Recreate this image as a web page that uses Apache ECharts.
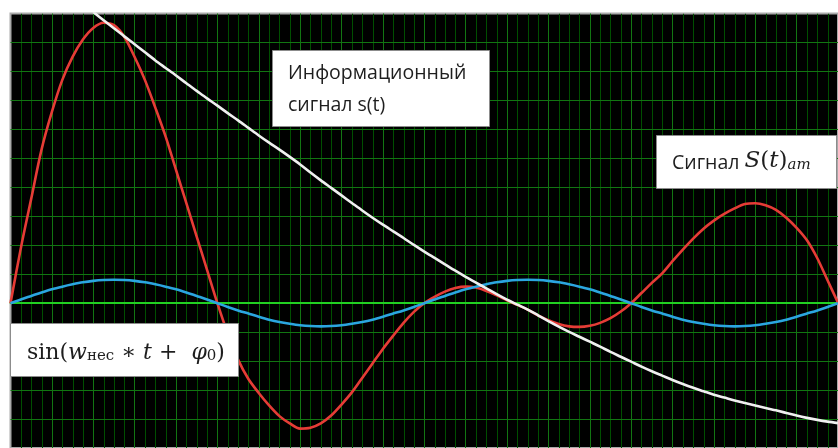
<!DOCTYPE html>
<html>
<head>
<meta charset="utf-8">
<script src="https://cdn.jsdelivr.net/npm/echarts@6/dist/echarts.min.js"></script>
<style>
  html, body { margin: 0; padding: 0; background: #fff; }
  #chart { width: 838px; height: 448px; }
</style>
</head>
<body>
<div id="chart"></div>
<script>
// Time axis, in carrier grid units (one carrier period = 10 units)
const time = [
  0, 0.25, 0.5, 0.75, 1, 1.25, 1.5, 1.75, 2, 2.25, 2.5, 2.75, 3, 3.25, 3.5, 3.75, 4, 4.25, 4.5, 4.75,
  5, 5.25, 5.5, 5.75, 6, 6.25, 6.5, 6.75, 7, 7.25, 7.5, 7.75, 8, 8.25, 8.5, 8.75, 9, 9.25, 9.5, 9.75,
  10, 10.25, 10.5, 10.75, 11, 11.25, 11.5, 11.75, 12, 12.25, 12.5, 12.75, 13, 13.25, 13.5, 13.75, 14, 14.25, 14.5, 14.75,
  15, 15.25, 15.5, 15.75, 16, 16.25, 16.5, 16.75, 17, 17.25, 17.5, 17.75, 18, 18.25, 18.5, 18.75, 19, 19.25, 19.5, 19.75,
  20
];

// Carrier sin(w_нес * t + phi0)
const carrier = [
  0, 0.13, 0.25, 0.37, 0.48, 0.57, 0.65, 0.72, 0.77, 0.80, 0.81, 0.80, 0.77, 0.72, 0.65, 0.57, 0.48, 0.37, 0.25, 0.13,
  0, -0.13, -0.25, -0.36, -0.47, -0.57, -0.65, -0.71, -0.76, -0.79, -0.80, -0.79, -0.76, -0.71, -0.65, -0.57, -0.47, -0.36, -0.25, -0.13,
  0, 0.13, 0.25, 0.37, 0.48, 0.57, 0.65, 0.72, 0.77, 0.80, 0.81, 0.80, 0.77, 0.72, 0.65, 0.57, 0.48, 0.37, 0.25, 0.13,
  0, -0.13, -0.25, -0.36, -0.47, -0.57, -0.65, -0.71, -0.76, -0.79, -0.80, -0.79, -0.76, -0.71, -0.65, -0.57, -0.47, -0.36, -0.25, -0.13,
  0
];

// Information signal s(t); enters the plot at its top edge
const info = [
  null, null, null, null, null, null, null, null,
  10.05, 9.77, 9.49, 9.21, 8.94, 8.66, 8.38, 8.12, 7.86, 7.59, 7.33, 7.07,
  6.82, 6.56, 6.31, 6.05, 5.79, 5.54, 5.30, 5.05, 4.79, 4.51, 4.24, 3.98, 3.72, 3.46, 3.20, 2.95, 2.71, 2.48, 2.25, 2.01,
  1.78, 1.56, 1.34, 1.12, 0.91, 0.71, 0.51, 0.31, 0.12, -0.05, -0.22, -0.42, -0.62, -0.81, -0.99, -1.16, -1.33, -1.50, -1.68, -1.85,
  -2.02, -2.19, -2.35, -2.50, -2.65, -2.79, -2.92, -3.04, -3.16, -3.26, -3.36, -3.45, -3.53, -3.62, -3.70, -3.79, -3.88, -3.96, -4.03, -4.09,
  -4.14
];

// Amplitude-modulated signal S(t)am
const am = [
  0, 1.9, 3.6, 5.3, 6.6, 7.7, 8.5, 9.1, 9.5, 9.68, 9.6, 9.2, 8.5, 7.7, 6.75, 5.75, 4.6, 3.45, 2.3, 1.15,
  0, -1.05, -1.95, -2.62, -3.1, -3.53, -3.9, -4.15, -4.33, -4.3, -4.15, -3.88, -3.5, -3.08, -2.58, -2.08, -1.58, -1.12, -0.68, -0.3,
  0, 0.22, 0.40, 0.52, 0.57, 0.54, 0.42, 0.27, 0.1, -0.06, -0.22, -0.42, -0.59, -0.72, -0.80, -0.82, -0.78, -0.68, -0.52, -0.29,
  0, 0.35, 0.7, 1.03, 1.45, 1.85, 2.23, 2.57, 2.85, 3.08, 3.27, 3.42, 3.45, 3.38, 3.22, 2.95, 2.6, 2.17, 1.55, 0.78,
  0.02
];

// Fine vertical divisions: quarters of each major time division
const minorTicks = [];
for (let k = 1; k < 80; k++) {
  if (k % 4 !== 0) minorTicks.push([k / 4, 0]);
}

const pairs = vals => time.map((t, i) => [t, vals[i]]);

const sansFont = '"Open Sans", "Noto Sans", sans-serif';
const mathFont = '"DejaVu Serif", serif';
const textColor = '#1e1e1e';
const majorGreen = '#127512';
const minorGreen = '#004e00';

const chart = echarts.init(document.getElementById('chart'), null, { renderer: 'canvas' });

const lineSeries = (name, vals, color, z) => ({
  name, type: 'line', data: pairs(vals), showSymbol: false, smooth: 0.3,
  connectNulls: false, z, lineStyle: { color, width: 2.6 }, silent: true
});

const box = (x, y, w, h) => ({
  type: 'rect', z: 100,
  shape: { x: x + 0.5, y: y + 0.5, width: w, height: h },
  style: { fill: '#ffffff', stroke: '#8c8c8c', lineWidth: 1 }
});

const hidden = { axisTick: { show: false }, axisLabel: { show: false } };

chart.setOption({
  animation: false,
  backgroundColor: '#ffffff',
  grid: {
    left: 10.5, top: 13.5, width: 834, height: 439,
    show: true, backgroundColor: '#000000', borderColor: '#a9a9a9', borderWidth: 2
  },
  xAxis: {
    type: 'value', min: 0, max: 20, interval: 1, z: 2, ...hidden,
    axisLine: { show: true, onZero: true, lineStyle: { color: '#22d022', width: 2 } },
    splitLine: { show: true, showMinLine: false, lineStyle: { color: majorGreen, width: 1 } }
  },
  yAxis: {
    type: 'value', min: -5, max: 10, interval: 1, z: 1, ...hidden,
    axisLine: { show: false },
    splitLine: { show: true, showMaxLine: false, lineStyle: { color: majorGreen, width: 1 } }
  },
  series: [
    {
      // fine grid, snapped to whole pixels so each line stays crisp
      name: 'fine grid', type: 'custom', z: 0, silent: true, clip: true,
      data: minorTicks,
      renderItem: (params, api) => {
        const cs = params.coordSys;
        const x = Math.round(api.coord([api.value(0), 0])[0]) + 0.5;
        return {
          type: 'line',
          shape: { x1: x, y1: cs.y, x2: x, y2: cs.y + cs.height },
          style: { stroke: minorGreen, lineWidth: 1 }
        };
      }
    },
    lineSeries('S(t)am', am, '#e63c36', 3),
    lineSeries('carrier', carrier, '#2ba6e0', 4),
    lineSeries('s(t)', info, '#f0f0f0', 5)
  ],
  graphic: [
    box(272, 50, 217, 76),
    {
      type: 'text', z: 101, x: 288, y: 57,
      style: {
        text: 'Информационный\nсигнал s(t)',
        fontFamily: sansFont, fontSize: 19.5, lineHeight: 32,
        fill: textColor, verticalAlign: 'top', align: 'left'
      }
    },
    box(656, 135, 180, 53),
    {
      type: 'text', z: 101, x: 672, y: 143,
      style: {
        text: '{a|Сигнал }{b|S}{c|(}{b|t}{c|)}{d|am}',
        verticalAlign: 'top', align: 'left', fill: textColor,
        rich: {
          a: { fontFamily: sansFont, fontSize: 19.5, lineHeight: 30, verticalAlign: 'bottom', fill: textColor },
          b: { fontFamily: mathFont, fontStyle: 'italic', fontSize: 23, lineHeight: 30, verticalAlign: 'bottom', fill: textColor },
          c: { fontFamily: mathFont, fontSize: 23, lineHeight: 30, verticalAlign: 'bottom', fill: textColor },
          d: { fontFamily: mathFont, fontStyle: 'italic', fontSize: 15, lineHeight: 17, verticalAlign: 'bottom', fill: textColor }
        }
      }
    },
    box(10, 323, 228, 53),
    {
      type: 'text', z: 101, x: 27, y: 334,
      style: {
        text: '{r|sin(}{i|w}{s|нес}{r| ∗ }{i|t}{r| +  }{i|φ}{s|0}{r|)}',
        verticalAlign: 'top', align: 'left', fill: textColor,
        rich: {
          r: { fontFamily: mathFont, fontSize: 22, lineHeight: 30, verticalAlign: 'bottom', fill: textColor },
          i: { fontFamily: mathFont, fontStyle: 'italic', fontSize: 22, lineHeight: 30, verticalAlign: 'bottom', fill: textColor },
          s: { fontFamily: mathFont, fontSize: 15, lineHeight: 17, verticalAlign: 'bottom', fill: textColor }
        }
      }
    }
  ]
});
</script>
</body>
</html>
